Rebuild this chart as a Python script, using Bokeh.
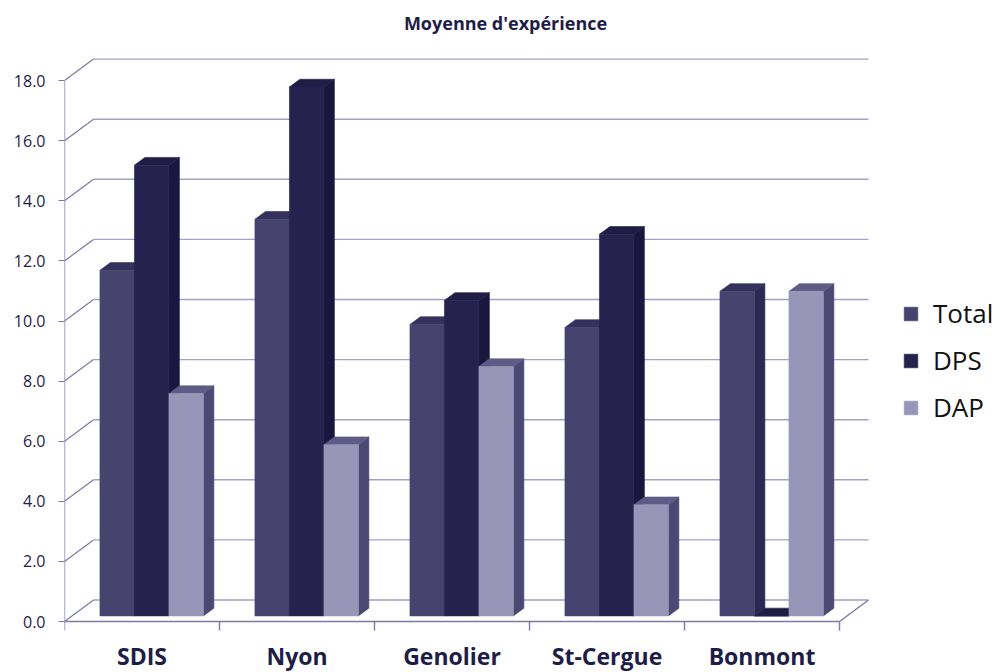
from bokeh.plotting import figure
from bokeh.models import Range1d, FixedTicker, Legend, LegendItem
from bokeh.core.properties import value
from bokeh.embed import file_html
from bokeh.resources import INLINE

# ---------------- data ----------------
categories = ["SDIS", "Nyon", "Genolier", "St-Cergue", "Bonmont"]
series_names = ["Total", "DPS", "DAP"]
total = [11.5, 13.2, 9.7, 9.6, 10.8]
dps = [15.0, 17.6, 10.5, 12.7, 0.0]
dap = [7.4, 5.7, 8.3, 3.7, 10.8]
y_ticks = [0, 2, 4, 6, 8, 10, 12, 14, 16, 18]
y_tick_labels = ["0.0", "2.0", "4.0", "6.0", "8.0", "10.0", "12.0", "14.0", "16.0", "18.0"]
title_text = "Moyenne d'expérience"

# ---------------- layout / style constants ----------------
W, H = 1000, 672
LEFT = 64
CAT_PX = 155.0
UNIT_PX = 30.05
ZERO_Y = 621.0           # px from figure top to value 0 (front plane)
DX = 29.0 / CAT_PX       # full depth offset, x
DY = 21.5 / UNIT_PX      # full depth offset, y
F0, F1 = 0.26, 0.62      # bar depth span (fraction of full depth)
GAP = 0.18
BW = 0.2226
NCAT = len(categories)
YMAX = y_ticks[-1]

FONT = "Open Sans"
TXT = "#1e1d48"
GRID = "#a3a1c6"
AXIS = "#7b79a5"

colors = {
    "Total": ("#46446e", "#34325c", "#2b2952"),   # front, top, side
    "DPS": ("#25234d", "#1f1d45", "#19173e"),
    "DAP": ("#9896b8", "#5e5c87", "#4b4974"),
}

p = figure(width=W, height=H, output_backend="svg", toolbar_location=None,
           x_range=Range1d(0, (W - LEFT) / CAT_PX),
           y_range=Range1d(-(H - ZERO_Y) / UNIT_PX, ZERO_Y / UNIT_PX),
           x_axis_location=None, min_border_left=LEFT, min_border_right=0,
           min_border_top=0, min_border_bottom=0)
p.outline_line_color = None
p.grid.visible = False
p.background_fill_color = "white"

ax = p.yaxis[0]
ax.ticker = FixedTicker(ticks=y_ticks, minor_ticks=[])
ax.major_label_overrides = {t: l for t, l in zip(y_ticks, y_tick_labels)}
ax.axis_line_color = None
ax.major_tick_in = 0
ax.major_tick_out = 6
ax.major_tick_line_color = AXIS
ax.major_tick_line_width = 1.2
ax.minor_tick_line_color = None
ax.major_label_standoff = 13
ax.major_label_text_font = FONT
ax.major_label_text_font_size = "16px"
ax.major_label_text_color = TXT


def proj(x, v, f):
    return x + f * DX, v + f * DY


# ---------------- walls, floor, axis lines ----------------
p.segment(x0=[proj(0, t, 1)[0] for t in y_ticks], y0=[proj(0, t, 1)[1] for t in y_ticks],
          x1=[proj(NCAT, t, 1)[0] for t in y_ticks], y1=[proj(NCAT, t, 1)[1] for t in y_ticks],
          line_color=GRID, line_width=1.4)
p.segment(x0=[0] * len(y_ticks), y0=y_ticks,
          x1=[proj(0, t, 1)[0] for t in y_ticks], y1=[proj(0, t, 1)[1] for t in y_ticks],
          line_color=AXIS, line_width=1.2)
p.segment(x0=[0], y0=[-0.3], x1=[0], y1=[YMAX], line_color=AXIS, line_width=1.4)
p.segment(x0=[0, NCAT], y0=[0, 0], x1=[NCAT, proj(NCAT, 0, 1)[0]], y1=[0, proj(NCAT, 0, 1)[1]],
          line_color=AXIS, line_width=1.4)
p.segment(x0=list(range(1, NCAT + 1)), y0=[0] * NCAT, x1=list(range(1, NCAT + 1)), y1=[-0.3] * NCAT,
          line_color=AXIS, line_width=1.4)

# ---------------- 3D bars ----------------
legend_items = []
for k, (name, vals) in enumerate(zip(series_names, [total, dps, dap])):
    fc, tc, sc = colors[name]
    side_xs, side_ys, top_xs, top_ys = [], [], [], []
    lefts, rights, bottoms, tops = [], [], [], []
    for i, v in enumerate(vals):
        x0 = i + GAP + k * BW
        x1 = x0 + BW
        pts = [proj(x1, 0, F0), proj(x1, 0, F1), proj(x1, v, F1), proj(x1, v, F0)]
        side_xs.append([q[0] for q in pts]); side_ys.append([q[1] for q in pts])
        pts = [proj(x0, v, F0), proj(x1, v, F0), proj(x1, v, F1), proj(x0, v, F1)]
        top_xs.append([q[0] for q in pts]); top_ys.append([q[1] for q in pts])
        lefts.append(x0 + F0 * DX); rights.append(x1 + F0 * DX)
        bottoms.append(F0 * DY); tops.append(v + F0 * DY)
    p.patches(side_xs, side_ys, fill_color=sc, line_color=sc, line_width=0.6)
    p.patches(top_xs, top_ys, fill_color=tc, line_color=tc, line_width=0.6)
    r = p.quad(left=lefts, right=rights, bottom=bottoms, top=tops,
               fill_color=fc, line_color=fc, line_width=0.6)
    legend_items.append(LegendItem(label=name, renderers=[r]))

# ---------------- texts ----------------
p.text(x=[(505 - LEFT) / CAT_PX], y=[(ZERO_Y - 22) / UNIT_PX], text=[title_text],
       text_font=value(FONT), text_font_style="bold", text_font_size="18px",
       text_color=TXT, text_align="center", text_baseline="middle")

p.text(x=[i + 0.5 for i in range(NCAT)], y=[(ZERO_Y - 655) / UNIT_PX] * NCAT, text=categories,
       text_font=value(FONT), text_font_style="bold", text_font_size="23px",
       text_color=TXT, text_align="center", text_baseline="middle")

legend = Legend(items=legend_items, location=(838, 247), orientation="vertical")
legend.label_text_font = FONT
legend.label_text_font_size = "26px"
legend.label_text_color = "#111111"
legend.glyph_width = 17
legend.glyph_height = 17
legend.label_standoff = 14
legend.spacing = 11
legend.padding = 0
legend.margin = 0
legend.border_line_color = None
legend.background_fill_alpha = 0
p.add_layout(legend)

open("out.html", "w").write(file_html(p, INLINE))
